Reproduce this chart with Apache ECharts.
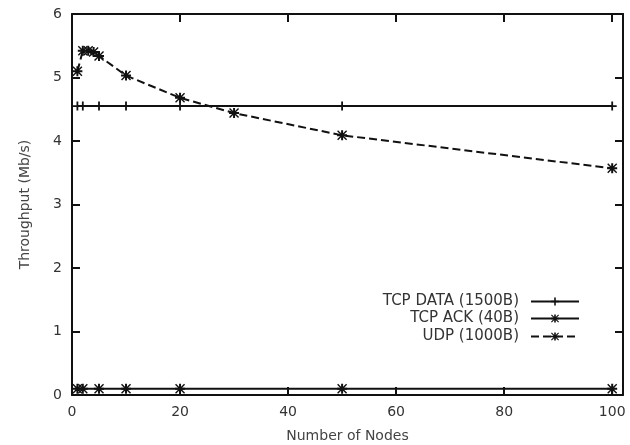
<!DOCTYPE html>
<html>
<head>
<meta charset="utf-8">
<script src="https://cdn.jsdelivr.net/npm/echarts@6/dist/echarts.min.js"></script>
<style>html,body{margin:0;padding:0;background:#fff;overflow:hidden}#c{width:630px;height:445px}</style>
</head>
<body>
<div id="c"></div>
<script>
var xTicks = [0, 20, 40, 60, 80, 100];
var yTicks = [0, 1, 2, 3, 4, 5, 6];
var tcpDataX = [1, 2, 5, 10, 20, 50, 100];
var tcpDataY = [4.55, 4.55, 4.55, 4.55, 4.55, 4.55, 4.55];
var tcpAckX = [1, 2, 5, 10, 20, 50, 100];
var tcpAckY = [0.1, 0.1, 0.1, 0.1, 0.1, 0.1, 0.1];
var udpX = [1, 2, 3, 4, 5, 10, 20, 30, 50, 100];
var udpY = [5.1, 5.42, 5.42, 5.4, 5.34, 5.03, 4.68, 4.44, 4.09, 3.57];
var names = ['TCP DATA (1500B)', 'TCP ACK (40B)', 'UDP (1000B)'];

function pairs(xs, ys) { return xs.map(function (x, i) { return [x, ys[i]]; }); }

var plusPath = 'path://M4,0h2v4h4v2h-4v4h-2v-4h-4v-2h4z';
var starPath = 'path://M4,0h2v10h-2z M0,4h10v2h-10z M0,1L1,0L10,9L9,10Z M9,0L10,1L1,10L0,9Z';

var font = 'DejaVu Sans';
var axisLineStyle = { color: '#111', width: 2 };
var chart = echarts.init(document.getElementById('c'));

function legendFor(i, top) {
  return {
    data: [names[i]], right: 45, top: top, orient: 'vertical', align: 'right',
    itemWidth: 48, itemHeight: 10, itemGap: 11,
    textStyle: { fontFamily: font, fontSize: 15, color: '#333', padding: [0, 7, 0, 0] },
    selectedMode: false
  };
}

chart.setOption({
  animation: false,
  backgroundColor: '#fff',
  grid: { left: 72, top: 14, right: 7, bottom: 50, containLabel: false, outerBoundsMode: 'none' },
  legend: [legendFor(0, 289), legendFor(1, 306), legendFor(2, 324)],
  xAxis: [{
    type: 'value', min: 0, max: 102, position: 'bottom',
    name: 'Number of Nodes', nameLocation: 'middle', nameGap: 34,
    nameTextStyle: { fontFamily: font, fontSize: 14, color: '#444' },
    axisLine: { show: true, onZero: false, lineStyle: axisLineStyle },
    axisTick: { show: true, inside: true, length: 8, customValues: xTicks, lineStyle: { color: '#111', width: 2 } },
    axisLabel: { customValues: xTicks, margin: 10, fontFamily: font, fontSize: 14, color: '#333' },
    splitLine: { show: false }
  }, {
    type: 'value', min: 0, max: 102, position: 'top',
    axisLine: { show: true, onZero: false, lineStyle: axisLineStyle },
    axisTick: { show: true, inside: true, length: 8, customValues: xTicks, lineStyle: { color: '#111', width: 2 } },
    axisLabel: { show: false },
    splitLine: { show: false }
  }],
  yAxis: [{
    type: 'value', min: 0, max: 6, interval: 1, position: 'left',
    name: 'Throughput (Mb/s)', nameLocation: 'middle', nameGap: 40,
    nameTextStyle: { fontFamily: font, fontSize: 14, color: '#444' },
    axisLine: { show: true, onZero: false, lineStyle: axisLineStyle },
    axisTick: { show: true, inside: true, length: 8, lineStyle: { color: '#111', width: 2 } },
    axisLabel: { customValues: yTicks, margin: 10, fontFamily: font, fontSize: 14, color: '#333' },
    splitLine: { show: false }
  }, {
    type: 'value', min: 0, max: 6, interval: 1, position: 'right',
    axisLine: { show: true, onZero: false, lineStyle: axisLineStyle },
    axisTick: { show: true, inside: true, length: 8, lineStyle: { color: '#111', width: 2 } },
    axisLabel: { show: false },
    splitLine: { show: false }
  }],
  series: [{
    name: names[0], type: 'line', data: pairs(tcpDataX, tcpDataY),
    symbol: plusPath, symbolSize: 9, showAllSymbol: true,
    lineStyle: { color: '#111', width: 2 }, itemStyle: { color: '#111' }
  }, {
    name: names[1], type: 'line', data: pairs(tcpAckX, tcpAckY),
    symbol: starPath, symbolSize: 10, showAllSymbol: true,
    lineStyle: { color: '#111', width: 2 }, itemStyle: { color: '#111' }
  }, {
    name: names[2], type: 'line', data: pairs(udpX, udpY),
    symbol: starPath, symbolSize: 10, showAllSymbol: true,
    lineStyle: { color: '#111', width: 2, type: [8, 4] }, itemStyle: { color: '#111' }
  }]
});
</script>
</body>
</html>
